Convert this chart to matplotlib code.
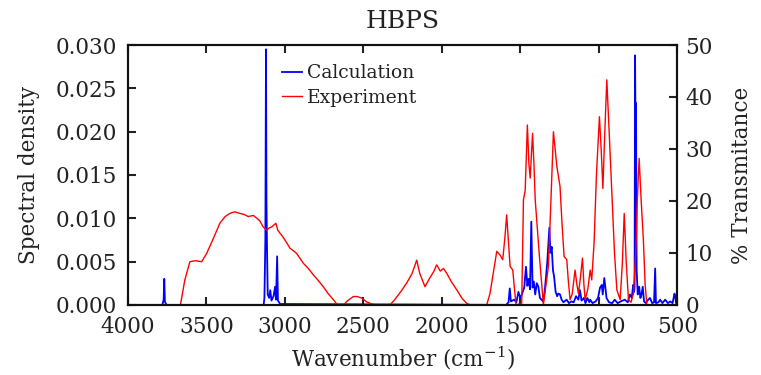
import matplotlib
matplotlib.use("Agg")
import matplotlib.pyplot as plt

# calculated spectrum (wavenumber cm-1, spectral density)
calc_wn = [4000, 3780, 3772, 3768, 3764, 3755,
           3135, 3130, 3124, 3120, 3117, 3114, 3109, 3100, 3093, 3085, 3072, 3062,
           3056, 3049, 3044, 3030,
           1590, 1575, 1567, 1560, 1540, 1525, 1512, 1500, 1490, 1475, 1464, 1455,
           1447, 1438, 1430, 1422, 1414, 1405, 1395, 1385, 1375, 1365, 1355, 1345,
           1336, 1328, 1315, 1308, 1300, 1292, 1285, 1275, 1265, 1258, 1247, 1237,
           1225, 1205, 1190, 1175, 1160, 1145, 1130, 1120, 1110, 1095, 1085, 1073,
           1060, 1055, 1040, 1020, 1005, 992, 981, 975, 965, 958, 951, 935, 915,
           899, 880, 860, 835, 815, 802, 790, 781, 775, 772, 769, 766, 763, 759,
           752, 743, 735, 728, 720, 712, 700, 690, 674, 660, 648, 641, 636, 620,
           609, 595, 577, 560, 545, 530, 518, 513, 508, 500]
calc_int = [0, 0, 0.0006, 0.0030, 0.0004, 0,
            0, 0.0008, 0.0075, 0.0295, 0.0120, 0.0071, 0.0012, 0.0008, 0.0017,
            0.0005, 0.0010, 0.0021, 0.0006, 0.0056, 0.0005, 0.0001,
            0, 0.0003, 0.0019, 0.0004, 0.0006, 0.0003, 0.0015, 0.0008, 0.0012,
            0.0020, 0.0044, 0.0022, 0.0030, 0.0018, 0.0096, 0.0020, 0.0027, 0.0012,
            0.0025, 0.0021, 0.0008, 0.0006, 0.0004, 0.0015, 0.0033, 0.0050, 0.0089,
            0.0060, 0.0067, 0.0040, 0.0033, 0.0015, 0.0010, 0.0013, 0.0012, 0.0006,
            0.0003, 0.0006, 0.0002, 0.0004, 0.0003, 0.0010, 0.0006, 0.0017, 0.0005,
            0.0008, 0.0002, 0.0008, 0.0003, 0.0006, 0.0002, 0.0004, 0.0008, 0.0020,
            0.0023, 0.0012, 0.0031, 0.0020, 0.0008, 0.0003, 0.0002, 0.0006, 0.0002,
            0.0004, 0.0006, 0.0003, 0.0012, 0.0008, 0.0023, 0.0015, 0.0020, 0.0288,
            0.0200, 0.0233, 0.0040, 0.0012, 0.0021, 0.0008, 0.0012, 0.0021, 0.0004,
            0.0002, 0.0005, 0.0008, 0.0002, 0.0003, 0.0042, 0.0002, 0.0003, 0.0006,
            0.0002, 0.0006, 0.0002, 0.0004, 0.0002, 0.0013, 0.0010, 0.0002, 0.0003]

# experimental spectrum (wavenumber cm-1, % transmittance)
exp_wn = [3665, 3637, 3605, 3570, 3530, 3498, 3455, 3414, 3380, 3350, 3320, 3286,
          3260, 3233, 3200, 3180, 3160, 3138, 3116, 3100, 3084, 3057, 3045, 3031,
          3015, 3000, 2985, 2967, 2945, 2925, 2905, 2882, 2850, 2819, 2790, 2755,
          2725, 2691, 2665, 2627, 2600, 2564, 2540, 2510, 2480, 2457, 2430, 2330,
          2300, 2260, 2224, 2190, 2160, 2140, 2107, 2080, 2050, 2033, 2010, 1990,
          1969, 1940, 1905, 1870, 1841, 1820, 1714, 1693, 1670, 1650, 1629, 1612,
          1598, 1587, 1575, 1565, 1548, 1537, 1527, 1491, 1480, 1469, 1455, 1445,
          1437, 1422, 1413, 1405, 1380, 1353, 1340, 1321, 1305, 1289, 1278, 1267,
          1247, 1235, 1221, 1204, 1195, 1183, 1170, 1151, 1140, 1130, 1118, 1104,
          1095, 1087, 1070, 1055, 1045, 1030, 1015, 996, 985, 974, 962, 949, 935,
          917, 900, 885, 864, 850, 838, 825, 811, 795, 779, 765, 755, 743, 730,
          716, 705, 694, 500]
exp_t = [0, 4.8, 8.3, 8.5, 8.3, 9.9, 12.8, 15.7, 17.0, 17.6, 17.9, 17.6,
         17.4, 17.0, 17.2, 16.7, 16.2, 15.0, 14.4, 14.8, 15.0, 15.7, 14.4, 13.8,
         13.2, 12.5, 11.8, 10.9, 10.4, 9.9, 9.0, 8.0, 7.0, 5.8, 4.8, 3.5,
         2.2, 1.0, 0, 0, 0.8, 1.6, 1.6, 1.3, 0.6, 0.3, 0, 0,
         1.0, 2.6, 4.2, 6.0, 8.6, 6.0, 3.5, 5.0, 6.5, 7.7, 6.5, 7.0,
         6.1, 4.5, 2.9, 1.2, 0.3, 0, 0, 2.2, 6.5, 10.3, 9.6, 8.7,
         13.0, 17.3, 12.0, 7.4, 6.7, 3.0, 0, 0.3, 20.2, 22.0, 34.6, 27.0,
         24.4, 33.0, 27.0, 20.2, 10.0, 0, 3.0, 7.4, 20.0, 33.3, 30.0, 26.6,
         22.8, 16.0, 9.3, 8.7, 5.0, 1.0, 2.0, 6.7, 4.0, 2.2, 5.0, 9.0,
         4.0, 1.0, 3.0, 6.7, 4.8, 12.0, 25.0, 36.2, 30.0, 22.4, 33.0, 43.3, 34.0,
         21.5, 10.0, 2.9, 1.0, 8.0, 17.6, 8.0, 1.0, 0.5, 2.2, 10.0, 20.0, 28.2, 20.0,
         12.5, 4.0, 0, 0]

plt.rcParams.update({"font.family": "DejaVu Serif", "mathtext.fontset": "dejavuserif",
                     "font.size": 15.5, "text.color": "#222", "axes.labelcolor": "#222",
                     "xtick.color": "#222", "ytick.color": "#222"})

fig = plt.figure(figsize=(7.61, 3.75), dpi=100)
ax = fig.add_axes([0.168, 0.187, 0.722, 0.693])
ax2 = ax.twinx()

l1, = ax.plot(calc_wn, calc_int, color="#0000ff", lw=1.3, label="Calculation")
l2, = ax2.plot(exp_wn, exp_t, color="#ff0000", lw=1.0, label="Experiment")

ax.set_xlim(4000, 500)
ax.set_ylim(0, 0.030)
ax2.set_ylim(0, 50)
ax.set_xticks([4000, 3500, 3000, 2500, 2000, 1500, 1000, 500])
ax.set_yticks([0, 0.005, 0.010, 0.015, 0.020, 0.025, 0.030])
ax.set_yticklabels([f"{v:.3f}" for v in ax.get_yticks()])
ax2.set_yticks([0, 10, 20, 30, 40, 50])

ax.tick_params(axis="x", direction="in", length=6, width=1.5, top=True, pad=8)
ax.tick_params(axis="y", direction="in", length=6, width=1.5, pad=8)
ax2.tick_params(axis="y", direction="in", length=6, width=1.5, pad=6)
for a in (ax, ax2):
    for s in a.spines.values():
        s.set_linewidth(1.5)
        s.set_color("#111")

ax.set_title("HBPS", fontsize=18, pad=12)
ax.set_xlabel("Wavenumber (cm$^{-1}$)", labelpad=5)
ax.set_ylabel("Spectral density", labelpad=11)
ax2.set_ylabel("% Transmitance", labelpad=13)

ax2.legend([l1, l2], ["Calculation", "Experiment"], loc="upper left",
           bbox_to_anchor=(0.28, 0.925), frameon=False, fontsize=13.5,
           handlelength=1.1, handletextpad=0.25, borderpad=0, borderaxespad=0,
           labelspacing=0.35)

fig.savefig("out.png", dpi=100)
